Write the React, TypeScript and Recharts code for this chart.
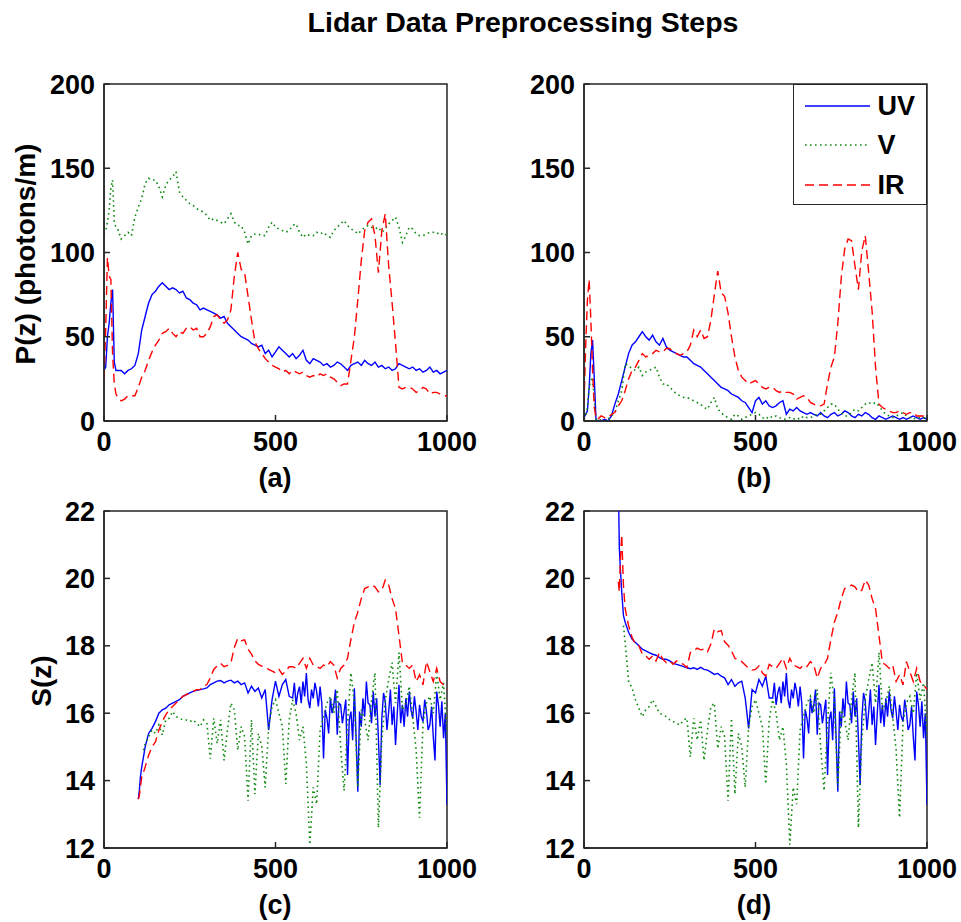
import React from 'react';
import { LineChart, Line, XAxis, YAxis, Legend, ReferenceArea } from 'recharts';

// ---------- sampling positions (range bins) ----------
const X_AB = [0, 5, 10, 15, 20, 25, 30, 35, 40,
  50, 60, 70, 80, 90, 100, 110, 120, 130, 140,
  150, 160, 170, 180, 190, 200, 210, 220, 230, 240,
  250, 260, 270, 280, 290, 300, 310, 320, 330, 340,
  350, 360, 370, 380, 390, 400, 410, 420, 430, 440,
  450, 460, 470, 480, 490, 500, 510, 520, 530, 540,
  550, 560, 570, 580, 590, 600, 610, 620, 630, 640,
  650, 660, 670, 680, 690, 700, 710, 720, 730, 740,
  750, 760, 770, 780, 790, 800, 810, 820, 830, 840,
  850, 860, 870, 880, 890, 900, 910, 920, 930, 940,
  950, 960, 970, 980, 990, 1000];

const X_HEAD = [100, 103, 106, 110, 115, 120,
  130, 140, 150, 160, 170, 180, 190, 200, 210, 220,
  230, 240, 250, 260, 270, 280, 290, 300, 310, 320,
  330, 340, 350, 360, 370, 380, 390, 400, 410, 420,
  430, 440, 450, 460, 470, 480, 490, 500, 510, 520,
  530, 540];

const X_TAIL = [550, 560, 570, 580, 590, 600, 610, 620, 630, 640,
  650, 660, 670, 680, 690, 700, 710, 720, 730, 740,
  750, 760, 770, 780, 790, 800, 810, 820, 830, 840,
  850, 860, 870, 880, 890, 900, 910, 920, 930, 940,
  950, 960, 970, 980, 990, 1000];

const X_TAIL_FINE = [550, 555, 560, 565, 570, 575, 580, 585, 590, 595,
  600, 605, 610, 615, 620, 625, 630, 635, 640, 645,
  650, 655, 660, 665, 670, 675, 680, 685, 690, 695,
  700, 705, 710, 715, 720, 725, 730, 735, 740, 745,
  750, 755, 760, 765, 770, 775, 780, 785, 790, 795,
  800, 805, 810, 815, 820, 825, 830, 835, 840, 845,
  850, 855, 860, 865, 870, 875, 880, 885, 890, 895,
  900, 905, 910, 915, 920, 925, 930, 935, 940, 945,
  950, 955, 960, 965, 970, 975, 980, 985, 990, 995,
  1000];

// ---------- panel (a): raw P(z) ----------
const A_UV = [30, 32, 50, 58, 70, 78, 35, 30, 30,
  30, 28, 30, 31, 33, 40, 54, 62, 70, 75,
  77, 80, 82, 80, 78, 79, 78, 76, 77, 73,
  72, 70, 69, 66, 67, 66, 65, 64, 63, 61,
  62, 58, 56, 54, 52, 50, 49, 48, 46, 45,
  44, 45, 40, 42, 38, 41, 44, 42, 40, 38,
  40, 37, 39, 42, 36, 34, 37, 36, 35, 33,
  34, 32, 33, 35, 34, 32, 30, 33, 34, 35,
  33, 36, 34, 33, 35, 32, 33, 31, 32, 30,
  31, 34, 33, 32, 31, 32, 30, 31, 29, 30,
  32, 29, 30, 28, 29, 30];
const A_V = [111, 113, 118, 125, 138, 143, 118, 115, 114,
  108, 110, 112, 110, 121, 127, 132, 141, 144, 143,
  143, 139, 133, 140, 143, 145, 148, 136, 133, 131,
  129, 128, 126, 125, 124, 122, 119, 120, 119, 118,
  117, 120, 123, 118, 116, 116, 112, 105, 110, 111,
  111, 110, 110, 115, 118, 115, 114, 113, 112, 113,
  116, 117, 112, 109, 111, 110, 110, 112, 111, 112,
  110, 109, 113, 115, 117, 119, 116, 114, 113, 111,
  113, 115, 116, 115, 114, 115, 112, 114, 117, 119,
  121, 115, 106, 110, 115, 114, 111, 110, 110, 111,
  112, 112, 111, 112, 110, 111];
const A_IR = [25, 55, 97, 86, 84, 40, 22, 16, 14,
  12, 13, 15, 15, 15, 20, 26, 30, 36, 41,
  45, 48, 52, 53, 55, 52, 50, 53, 52, 55,
  56, 54, 55, 50, 50, 52, 56, 62, 63, 60,
  58, 60, 66, 86, 100, 90, 88, 74, 60, 47,
  43, 40, 37, 35, 33, 32, 31, 29, 30, 28,
  30, 29, 28, 29, 27, 26, 27, 26, 28, 27,
  28, 26, 25, 23, 21, 22, 22, 36, 50, 72,
  95, 113, 118, 120, 110, 88, 113, 123, 92, 70,
  46, 20, 19, 20, 20, 19, 17, 18, 20, 19,
  16, 17, 17, 16, 15, 15];

// ---------- panel (b): background removed ----------
const B_UV = [2, 4, 6, 20, 40, 48, 25, 1, 0,
  0, 1, 0, 3, 10, 16, 24, 32, 40, 45,
  47, 50, 53, 50, 48, 51, 47, 45, 49, 44,
  42, 41, 40, 39, 38, 38, 36, 34, 33, 32,
  30, 28, 26, 24, 22, 20, 19, 18, 16, 15,
  14, 12, 11, 8, 5, 12, 14, 10, 12, 9,
  8, 9, 11, 12, 4, 7, 6, 8, 6, 5,
  4, 5, 4, 3, 5, 3, 2, 4, 5, 3,
  4, 6, 5, 3, 2, 4, 3, 5, 4, 2,
  1, 3, 2, 1, 2, 3, 2, 1, 2, 1,
  2, 3, 2, 1, 2, 1];
const B_V = [1, 3, 8, 20, 24, 26, 12, 1, 0,
  1, 0, 1, 3, 5, 12, 18, 34, 33, 31,
  30, 32, 27, 29, 30, 31, 32, 26, 22, 22,
  20, 18, 16, 15, 14, 14, 13, 12, 11, 10,
  8, 7, 11, 14, 7, 5, 3, 2, 1, 4,
  3, 1, 2, 3, 4, 5, 4, 2, 1, 3,
  2, 3, 2, 1, 1, 2, 1, 2, 1, 3,
  2, 2, 3, 4, 4, 6, 8, 10, 10, 7,
  5, 3, 3, 5, 7, 6, 8, 10, 11, 10,
  11, 9, 6, 4, 3, 2, 3, 4, 5, 3,
  2, 1, 2, 2, 2, 1];
const B_IR = [10, 45, 72, 84, 60, 30, 8, 2, 1,
  3, 2, 2, 4, 5, 9, 12, 18, 25, 30,
  32, 36, 40, 38, 39, 40, 42, 41, 41, 43,
  43, 41, 40, 39, 40, 41, 45, 54, 50, 54,
  49, 50, 60, 75, 89, 76, 74, 64, 50, 38,
  30, 26, 24, 22, 23, 24, 22, 20, 19, 20,
  20, 18, 17, 18, 17, 17, 16, 13, 14, 15,
  14, 11, 10, 9, 9, 10, 22, 32, 38, 58,
  85, 102, 108, 107, 92, 78, 101, 110, 88, 65,
  32, 10, 8, 7, 6, 5, 5, 6, 5, 4,
  5, 5, 3, 3, 3, 3];

// ---------- panel (c): S(z) near range ----------
const C_UV_HEAD = [13.45, 13.7, 14.1, 14.4, 14.7, 15.0,
  15.4, 15.55, 15.75, 16.0, 16.1, 16.15, 16.25, 16.3, 16.35, 16.4,
  16.5, 16.55, 16.6, 16.65, 16.68, 16.7, 16.72, 16.75, 16.85, 16.9,
  16.95, 16.97, 16.9, 16.95, 16.98, 16.9, 16.95, 16.85, 16.9, 16.6,
  16.8, 16.65, 16.75, 16.45, 16.7, 15.5, 16.4, 16.95, 16.5, 16.85,
  17.0, 16.5];
const C_V_HEAD = [null, null, null, null, 14.9, 15.1,
  15.3, 15.5, 15.4, 15.65, 15.35, 15.8, 15.85, 16.05, 15.9, 15.85,
  15.8, 15.8, 15.75, 15.8, 15.7, 15.6, 15.8, 15.7, 14.65, 15.85,
  15.1, 15.8, 14.6, 15.5, 16.3, 16.1, 14.9, 15.6, 15.3, 13.4,
  15.8, 13.6, 15.4, 15.0, 13.8, 15.6, 16.2, 16.4, 16.0, 15.6,
  13.9, 15.8];
const C_IR_HEAD = [13.45, 13.55, 13.8, 14.1, 14.25, 14.4,
  14.75, 15.0, 15.15, 15.5, 15.75, 15.95, 16.1, 16.2, 16.3, 16.4,
  16.5, 16.55, 16.6, 16.65, 16.7, 16.7, 16.8, 16.85, 17.05, 17.3,
  17.4, 17.48, 17.38, 17.42, 17.5, 17.95, 18.22, 18.15, 18.18, 17.9,
  17.75, 17.55, 17.45, 17.4, 17.35, 17.3, 17.25, 17.2, 17.3, 17.15,
  17.25, 17.38];

// ---------- panel (d): S(z) near range, corrected ----------
const D_UV_HEAD = [23, 20.9, 20.3, 19.6, 18.9, 18.7,
  18.4, 18.2, 18.1, 18.0, 17.9, 17.85, 17.8, 17.75, 17.72, 17.65,
  17.6, 17.6, 17.55, 17.48, 17.45, 17.42, 17.38, 17.35, 17.32, 17.35,
  17.3, 17.36, 17.3, 17.28, 17.22, 17.15, 17.18, 17.1, 17.05, 16.85,
  17.0, 16.8, 16.9, 16.95, 16.45, 15.55, 16.7, 16.6, 17.0, 16.8,
  17.1, 16.45];
const D_V_HEAD = [null, null, null, null, 18.6, 18.1,
  16.95, 16.75, 16.4, 16.15, 15.9, 16.1, 16.2, 16.4, 16.2, 16.0,
  15.95, 15.9, 15.8, 15.75, 15.7, 15.65, 15.8, 15.85, 14.7, 15.85,
  15.2, 15.8, 14.6, 15.5, 16.2, 16.3, 14.95, 15.6, 15.3, 13.4,
  15.85, 13.6, 15.4, 15.0, 13.8, 15.6, 16.2, 16.4, 16.0, 15.6,
  13.9, 15.8];
const D_IR_HEAD = [19.9, 19.6, 20.5, 21.3, 19.8, 19.1,
  18.6, 18.25, 18.05, 18.0, 17.75, 17.7, 17.6, 17.7, 17.55, 17.8,
  17.6, 17.5, 17.55, 17.45, 17.55, 17.5, 17.45, 17.35, 17.8, 17.85,
  17.93, 17.88, 17.9, 17.82, 18.05, 18.5, 18.42, 18.45, 18.12, 18.02,
  17.85, 17.63, 17.58, 17.53, 17.43, 17.33, 17.28, 17.3, 17.4, 17.2,
  17.1, 17.45];

// ---------- far range S(z), common to (c) and (d) ----------
const S_UV_TAIL = [16.45, 16.9, 16.25, 16.6, 16.79, 16.3, 16.94, 16.5, 17.19, 16.4,
  16.15, 16.7, 16.44, 16.9, 16.64, 16.2, 16.79, 16.3, 14.66, 16.1,
  15.85, 15.4, 16.44, 16.0, 16.25, 16.7, 15.36, 16.3, 16.25, 15.7,
  16.05, 16.4, 14.17, 15.8, 16.05, 15.2, 16.74, 15.26, 13.67, 16.05,
  15.6, 16.44, 15.9, 16.94, 16.3, 16.25, 15.7, 16.64, 15.9, 16.44,
  15.26, 13.87, 15.85, 16.6, 16.35, 15.5, 16.05, 16.7, 15.65, 16.2,
  15.06, 16.0, 16.84, 15.7, 16.25, 15.6, 16.44, 15.9, 16.64, 16.1,
  15.85, 16.5, 16.05, 15.5, 16.25, 15.9, 15.75, 16.4, 16.05, 15.5,
  15.65, 16.2, 15.3, 14.6, 16.64, 16.25, 15.6, 16.35, 15.26, 16.0,
  13.28];
const S_V_TAIL = [16.4, 16.0, 15.2, 15.6, 14.5, 12.1, 13.8, 13.3, 15.5, 15.9,
  16.3, 16.5, 16.0, 16.7, 15.0, 13.7, 15.7, 17.2, 16.3, 13.8,
  16.1, 15.8, 15.2, 16.4, 17.2, 12.6, 15.2, 16.4, 17.0, 17.5,
  16.3, 17.8, 16.1, 16.3, 16.8, 15.9, 14.9, 12.9, 15.7, 16.3,
  16.5, 16.0, 17.2, 16.4, 16.9, 15.3];
const S_IR_TAIL = [17.38, 17.33, 17.48, 17.63, 17.33, 17.63, 17.43, 17.38, 17.33, 17.43,
  17.38, 17.53, 17.43, 17.04, 17.33, 17.43, 17.63, 18.2, 18.7, 19.0,
  19.4, 19.7, 19.75, 19.8, 19.75, 19.6, 19.65, 19.95, 19.8, 19.4,
  19.1, 18.3, 17.5, 17.43, 17.33, 17.43, 16.94, 17.14, 16.84, 17.53,
  17.23, 16.94, 17.33, 16.94, 16.84, 16.7];

// ---------- ticks, labels ----------
const X_TICKS = [0, 500, 1000];
const P_TICKS = [0, 50, 100, 150, 200];
const S_TICKS = [12, 14, 16, 18, 20, 22];
const TITLE = 'Lidar Data Preprocessing Steps';
const PANEL_LABELS = ['(a)', '(b)', '(c)', '(d)'];
const Y_LABEL_P = 'P(z) (photons/m)';
const Y_LABEL_S = 'S(z)';

const SERIES = [
  { key: 'uv', name: 'UV', color: '#0000ff', dash: undefined as string | undefined, width: 1.4 },
  { key: 'v', name: 'V', color: '#108a10', dash: '1.6 3.4', width: 1.6 },
  { key: 'ir', name: 'IR', color: '#ff0000', dash: '9 5', width: 1.4 },
];

type Row = { x: number; uv?: number | null; v?: number | null; ir?: number | null };

const rows = (xs: number[], uv: (number | null)[], v: (number | null)[], ir: (number | null)[]): Row[] =>
  xs.map((x, i) => ({ x, uv: uv[i], v: v[i], ir: ir[i] }));

// far-range rows: UV read at finer spacing, V and IR at the coarser grid
const tailRows = (): Row[] =>
  X_TAIL_FINE.map((x, i) => {
    const j = X_TAIL.indexOf(x);
    return j >= 0
      ? { x, uv: S_UV_TAIL[i], v: S_V_TAIL[j], ir: S_IR_TAIL[j] }
      : { x, uv: S_UV_TAIL[i] };
  });

const DATA_A = rows(X_AB, A_UV, A_V, A_IR);
const DATA_B = rows(X_AB, B_UV, B_V, B_IR);
const DATA_C = [...rows(X_HEAD, C_UV_HEAD, C_V_HEAD, C_IR_HEAD), ...tailRows()];
const DATA_D = [...rows(X_HEAD, D_UV_HEAD, D_V_HEAD, D_IR_HEAD), ...tailRows()];

const FONT = '"Liberation Sans", Arial, Helvetica, sans-serif';
const FRAME = '#262626';
const AXIS_LINE = { stroke: FRAME, strokeWidth: 1.5 };
const TICK_STYLE = { fill: '#000', fontSize: 27, fontWeight: 'bold', fontFamily: FONT };

const LEGEND_ROWS = [22.7, 61, 101];

const renderLegend = () => (
  <div style={{ boxSizing: 'border-box', width: 134, height: 121, border: `1.5px solid ${FRAME}`, background: '#fff', position: 'relative', fontFamily: FONT }}>
    {SERIES.map((s, i) => (
      <div key={s.key} style={{ position: 'absolute', left: -1.5, top: LEGEND_ROWS[i] - 20 - 1.5, height: 40, display: 'flex', alignItems: 'center', whiteSpace: 'nowrap' }}>
        <svg width={80} height={40} style={{ display: 'block' }}>
          <line x1={12} x2={77} y1={20} y2={20} stroke={s.color} strokeWidth={s.width} strokeDasharray={s.dash} />
        </svg>
        <span style={{ fontSize: 27, fontWeight: 'bold', marginLeft: 5, color: '#000', lineHeight: '40px' }}>{s.name}</span>
      </div>
    ))}
  </div>
);

type PanelProps = {
  left: number;
  top: number;
  data: Row[];
  yDomain: [number, number];
  yTicks: number[];
  legend?: boolean;
};

function Panel({ left, top, data, yDomain, yTicks, legend }: PanelProps) {
  return (
    <div style={{ position: 'absolute', left, top }}>
      <LineChart width={490} height={420} data={data} margin={{ top: 24, right: 43, bottom: 0, left: 0 }}>
        <XAxis xAxisId="b" dataKey="x" type="number" domain={[0, 1000]} ticks={X_TICKS} interval={0}
          allowDataOverflow height={59} tickSize={-6} tickMargin={17}
          axisLine={AXIS_LINE} tickLine={AXIS_LINE} tick={TICK_STYLE} />
        <XAxis xAxisId="t" orientation="top" dataKey="x" type="number" domain={[0, 1000]} ticks={X_TICKS} interval={0}
          allowDataOverflow height={0} tickSize={-6} tick={false}
          axisLine={AXIS_LINE} tickLine={AXIS_LINE} />
        <YAxis yAxisId="l" type="number" domain={yDomain} ticks={yTicks} interval={0}
          allowDataOverflow width={104} tickSize={-6} tickMargin={15}
          axisLine={AXIS_LINE} tickLine={AXIS_LINE} tick={TICK_STYLE} />
        <YAxis yAxisId="r" orientation="right" type="number" domain={yDomain} ticks={yTicks} interval={0}
          allowDataOverflow width={0} tickSize={-6} tick={false}
          axisLine={AXIS_LINE} tickLine={AXIS_LINE} />
        <ReferenceArea xAxisId="b" yAxisId="l" x1={0} x2={1000} y1={yDomain[0]} y2={yDomain[1]}
          fill="none" fillOpacity={0} stroke={FRAME} strokeWidth={1.5} ifOverflow="visible" />
        {SERIES.map((s) => (
          <Line key={s.key} xAxisId="b" yAxisId="l" type="linear" dataKey={s.key} name={s.name}
            stroke={s.color} strokeWidth={s.width} strokeDasharray={s.dash}
            dot={false} activeDot={false} connectNulls isAnimationActive={false} />
        ))}
        {legend && (
          <Legend layout="vertical" align="center" verticalAlign="middle" content={renderLegend}
            wrapperStyle={{ left: 313, top: 24, width: 134, height: 121, margin: 0, padding: 0 }} />
        )}
      </LineChart>
    </div>
  );
}

const textBase: React.CSSProperties = {
  position: 'absolute',
  fontFamily: FONT,
  fontWeight: 'bold',
  color: '#000',
  whiteSpace: 'nowrap',
  lineHeight: 1,
};

export default function App() {
  return (
    <div style={{ position: 'absolute', left: 0, top: 0, width: 961, height: 922, background: '#fff', fontFamily: FONT, overflow: 'hidden' }}>
      <div style={{ ...textBase, left: 523, top: 22, fontSize: 28.5, transform: 'translate(-50%, -50%)' }}>{TITLE}</div>

      <Panel left={0} top={60} data={DATA_A} yDomain={[0, 200]} yTicks={P_TICKS} />
      <Panel left={480} top={60} data={DATA_B} yDomain={[0, 200]} yTicks={P_TICKS} legend />
      <Panel left={0} top={487} data={DATA_C} yDomain={[12, 22]} yTicks={S_TICKS} />
      <Panel left={480} top={487} data={DATA_D} yDomain={[12, 22]} yTicks={S_TICKS} />

      <div style={{ ...textBase, left: 26, top: 254, fontSize: 28, transform: 'translate(-50%, -50%) rotate(-90deg)' }}>{Y_LABEL_P}</div>
      <div style={{ ...textBase, left: 42, top: 681, fontSize: 28, transform: 'translate(-50%, -50%) rotate(-90deg)' }}>{Y_LABEL_S}</div>

      <div style={{ ...textBase, left: 275, top: 478, fontSize: 27, transform: 'translate(-50%, -50%)' }}>{PANEL_LABELS[0]}</div>
      <div style={{ ...textBase, left: 754, top: 478, fontSize: 27, transform: 'translate(-50%, -50%)' }}>{PANEL_LABELS[1]}</div>
      <div style={{ ...textBase, left: 275, top: 905, fontSize: 27, transform: 'translate(-50%, -50%)' }}>{PANEL_LABELS[2]}</div>
      <div style={{ ...textBase, left: 754, top: 905, fontSize: 27, transform: 'translate(-50%, -50%)' }}>{PANEL_LABELS[3]}</div>
    </div>
  );
}
